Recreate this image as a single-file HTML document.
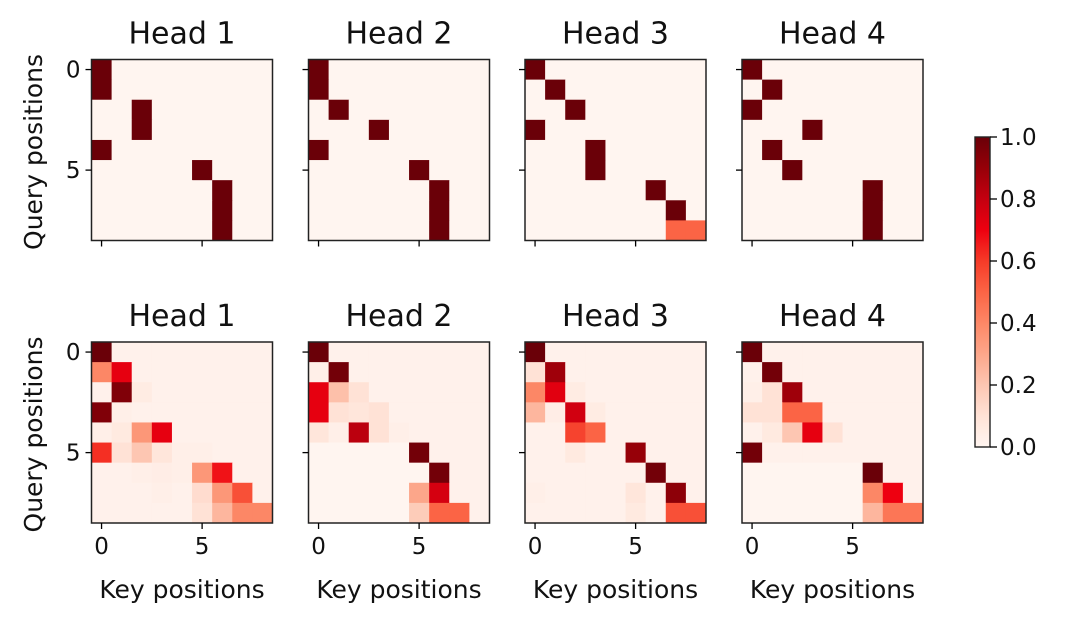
<!DOCTYPE html>
<html><head><meta charset="utf-8"><style>
html,body{margin:0;padding:0;background:#fff;}
svg{display:block;font-family:"DejaVu Sans","Liberation Sans",sans-serif;}
</style></head><body>
<svg id="fig" width="1070" height="623" viewBox="0 0 1070 623" xmlns="http://www.w3.org/2000/svg"></svg>
<script>
const headTitles = ["Head 1","Head 2","Head 3","Head 4"];
const xTicks = [0,5];
const yTicks = [0,5];
const cbTicks = [0,0.2,0.4,0.6,0.8,1.0];
const topHead1 = [[0,0,1],[1,0,1],[2,2,1],[3,2,1],[4,0,1],[5,5,1],[6,6,1],[7,6,1],[8,6,1]];
const topHead2 = [[0,0,1],[1,0,1],[2,1,1],[3,3,1],[4,0,1],[5,5,1],[6,6,1],[7,6,1],[8,6,1]];
const topHead3 = [[0,0,1],[1,1,1],[2,2,1],[3,0,1],[4,3,1],[5,3,1],[6,6,1],[7,7,1],[8,7,0.5],[8,8,0.5]];
const topHead4 = [[0,0,1],[1,1,1],[2,0,1],[3,3,1],[4,1,1],[5,2,1],[6,6,1],[7,6,1],[8,6,1]];
const botHead1 = [[1],[0.4,0.72],[0.02,0.95,0.05],[0.95,0.03,0.02],[0.03,0.06,0.35,0.72,0.02],[0.62,0.1,0.2,0.08,0.03,0.03],[0.02,0.02,0.03,0.04,0.03,0.35,0.67],[0.02,0.02,0.02,0.03,0.02,0.12,0.35,0.55],[0.02,0.02,0.02,0.02,0.02,0.1,0.25,0.4,0.4]];
const botHead2 = [[1],[0.03,0.98],[0.72,0.22,0.1],[0.72,0.1,0.08,0.1],[0.08,0.03,0.82,0.1,0.03],[0,0,0,0,0,0.98],[0,0,0,0,0,0,0.98],[0,0,0,0,0,0.3,0.76],[0,0,0,0,0,0.18,0.5,0.5]];
const botHead3 = [[1],[0.1,0.88],[0.4,0.73,0.05],[0.25,0.04,0.77,0.05],[0.02,0.02,0.58,0.5,0.02],[0.02,0.02,0.06,0.02,0.02,0.9],[0.02,0.02,0.02,0.02,0.02,0.02,0.98],[0.03,0.02,0.02,0.02,0.02,0.08,0.02,0.92],[0.02,0.02,0.02,0.02,0.02,0.06,0.02,0.55,0.55]];
const botHead4 = [[1],[0.02,0.98],[0.03,0.1,0.88],[0.1,0.1,0.5,0.5],[0.02,0.06,0.2,0.72,0.1],[0.98],[0,0,0,0,0,0,1],[0,0,0,0,0,0,0.4,0.7],[0,0,0,0,0,0,0.25,0.45,0.45]];

const N=9, W=181;
const lefts=[91.5,308.5,525,742];
const tops=[59.5,342];
const stops=[[255,245,240],[255,226,214],[253,198,178],[252,166,138],[252,135,102],[251,100,69],[245,59,40],[238,0,16],[196,0,16],[150,0,8],[106,0,8]];
function cmap(v){v=Math.max(0,Math.min(1,v));const n=stops.length-1,t=v*n,i=Math.min(n-1,Math.floor(t)),f=t-i;const a=stops[i],b=stops[i+1];return `rgb(${a.map((c,k)=>Math.round(c+(b[k]-c)*f)).join(',')})`;}
const svg=document.getElementById('fig');const NS='http://www.w3.org/2000/svg';
function el(tag,attrs,parent){const e=document.createElementNS(NS,tag);for(const k in attrs)e.setAttribute(k,attrs[k]);(parent||svg).appendChild(e);return e;}
function denseTop(list){const m=[];for(let r=0;r<N;r++)m.push(new Array(N).fill(0));list.forEach(([r,c,v])=>m[r][c]=v);return m;}
function denseBot(rows){return rows.map(r=>{const a=new Array(N).fill(0.02);r.forEach((v,i)=>a[i]=v);return a;});}
const mats=[[topHead1,topHead2,topHead3,topHead4].map(denseTop),[botHead1,botHead2,botHead3,botHead4].map(denseBot)];
const cs=W/N;
mats.forEach((row,ri)=>row.forEach((m,hi)=>{
  const x0=lefts[hi],y0=tops[ri];
  const xs=c=>x0+c*cs, ys=r=>y0+r*cs;
  const g=el('g',{});
  
  
  m.forEach((rr,r)=>rr.forEach((v,c)=>{
    const rc=el('rect',{x:xs(c),y:ys(r),width:cs+0.5,height:cs+0.5,fill:cmap(v)},g);
    
    
  }));
  const fr=el('rect',{x:x0,y:y0,width:W,height:W,fill:'none',stroke:'#222','stroke-width':1.5},g);
  
  const t=el('text',{x:x0+W/2,y:y0-16,'font-size':30,'text-anchor':'middle',fill:'#111'},g);t.textContent=headTitles[hi];
  
  xTicks.forEach(v=>{const x=xs(v+0.5);el('line',{x1:x,x2:x,y1:y0+W,y2:y0+W+6,stroke:'#000','stroke-width':1.3},g);
    if(ri===1){const tt=el('text',{x:x,y:y0+W+31,'font-size':23,'text-anchor':'middle',fill:'#111'},g);tt.textContent=v;}});
  yTicks.forEach(v=>{const y=ys(v+0.5);el('line',{x1:x0-6,x2:x0,y1:y,y2:y,stroke:'#000','stroke-width':1.3},g);
    if(hi===0){const tt=el('text',{x:x0-11,y:y+8,'font-size':23,'text-anchor':'end',fill:'#111'},g);tt.textContent=v;}});
  if(hi===0){const yl=el('text',{x:0,y:0,'font-size':25,'text-anchor':'middle',fill:'#111',transform:`translate(42,${y0+W/2+2}) rotate(-90)`},g);yl.textContent='Query positions';}
  if(ri===1){const xl=el('text',{x:x0+W/2,y:598,'font-size':25,'text-anchor':'middle',fill:'#111'},g);xl.textContent='Key positions';}
}));
const cbX=975,cbW=15,cbT=137,cbB=447;
const defs=el('defs',{});const lg=el('linearGradient',{id:'cbg',x1:0,y1:1,x2:0,y2:0},defs);
for(let i=0;i<=40;i++)el('stop',{offset:i/40,'stop-color':cmap(i/40)},lg);
const cb=el('rect',{x:cbX,y:cbT,width:cbW,height:cbB-cbT,fill:'url(#cbg)',stroke:'#222','stroke-width':1.4});

cbTicks.forEach(v=>{const y=cbB-v*(cbB-cbT);el('line',{x1:cbX+cbW,x2:cbX+cbW+7,y1:y,y2:y,stroke:'#000','stroke-width':1.3});
  const t=el('text',{x:cbX+cbW+10,y:y+8,'font-size':23,fill:'#111'});t.textContent=v.toFixed(1);});
</script>
</body></html>
